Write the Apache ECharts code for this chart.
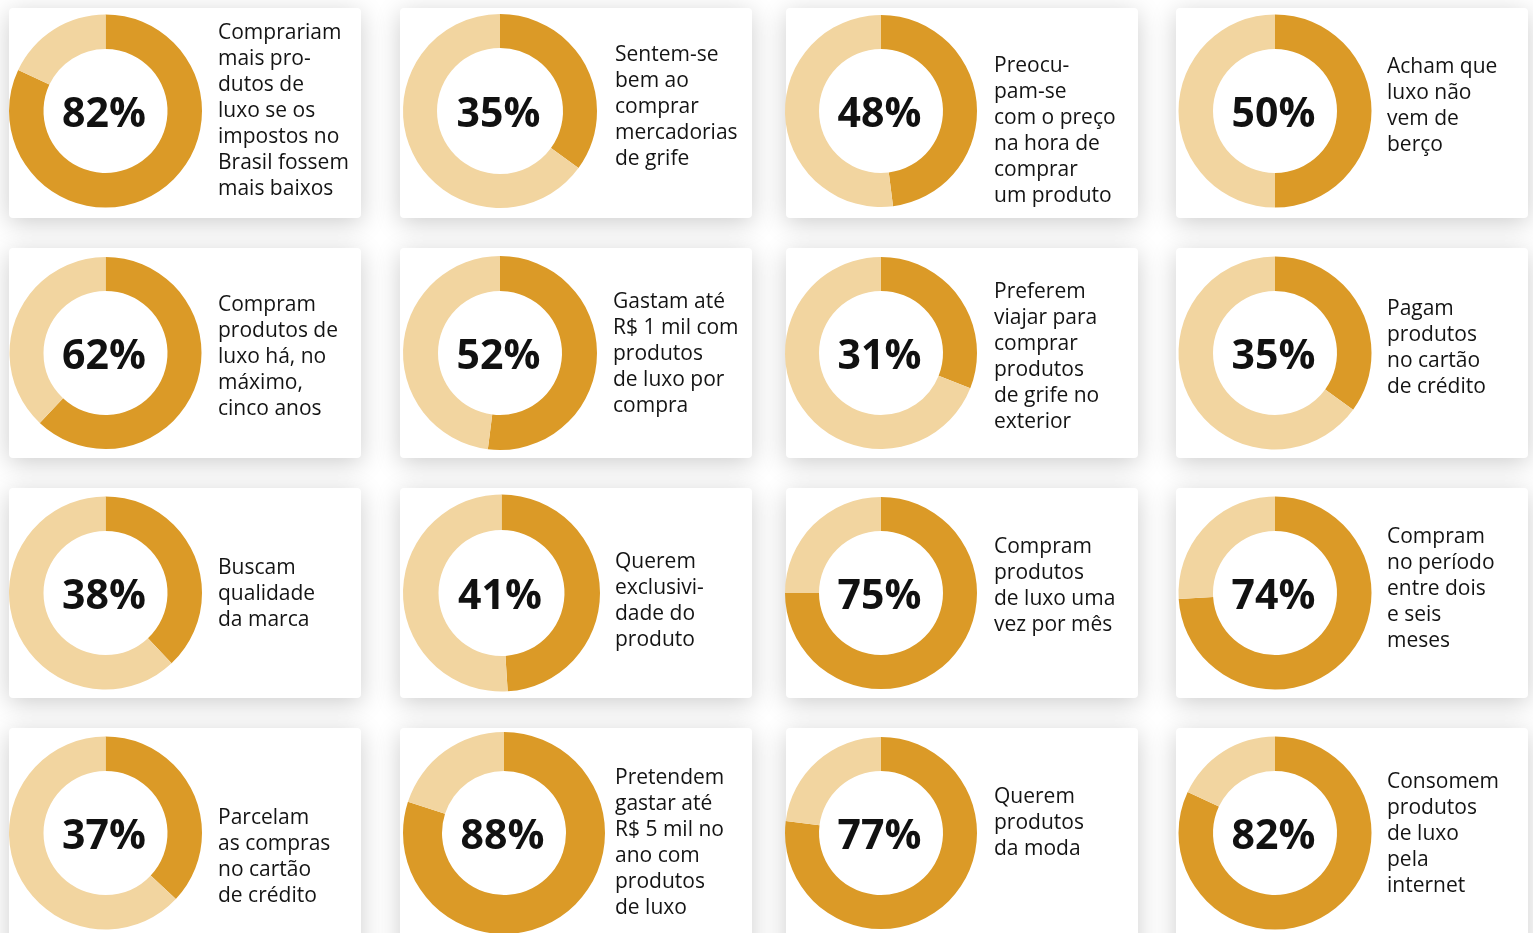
<!DOCTYPE html>
<html>
<head>
<meta charset="utf-8">
<script src="https://cdn.jsdelivr.net/npm/echarts@6/dist/echarts.min.js"></script>
<style>
html,body{margin:0;padding:0;background:#fff;overflow:hidden;}
#c{width:1533px;height:933px;}
</style>
</head>
<body>
<div id="c"></div>
<script>
// ---- data ----
// printed percentages
const pctLabels = [82, 35, 48, 50, 62, 52, 31, 35, 38, 41, 75, 74, 37, 88, 77, 82];
// share of each ring drawn in dark colour
const arcValues = [82, 35, 48, 50, 62, 52, 31, 35, 38, 49, 75, 74, 37, 80, 77, 82];
const descriptions = [
  "Comprariam\nmais pro-\ndutos de\nluxo se os\nimpostos no\nBrasil fossem\nmais baixos",
  "Sentem-se\nbem ao\ncomprar\nmercadorias\nde grife",
  "Preocu-\npam-se\ncom o preço\nna hora de\ncomprar\num produto",
  "Acham que\nluxo não\nvem de\nberço",
  "Compram\nprodutos de\nluxo há, no\nmáximo,\ncinco anos",
  "Gastam até\nR$ 1 mil com\nprodutos\nde luxo por\ncompra",
  "Preferem\nviajar para\ncomprar\nprodutos\nde grife no\nexterior",
  "Pagam\nprodutos\nno cartão\nde crédito",
  "Buscam\nqualidade\nda marca",
  "Querem\nexclusivi-\ndade do\nproduto",
  "Compram\nprodutos\nde luxo uma\nvez por mês",
  "Compram\nno período\nentre dois\ne seis\nmeses",
  "Parcelam\nas compras\nno cartão\nde crédito",
  "Pretendem\ngastar até\nR$ 5 mil no\nano com\nprodutos\nde luxo",
  "Querem\nprodutos\nda moda",
  "Consomem\nprodutos\nde luxo\npela\ninternet"
];

// ---- layout ----
const cardX = [9, 400, 786, 1176];
const cardY = [8, 248, 488, 728];
const cardW = 352, cardH = 210;
const donutCX = [105.5,500,881,1275, 105.5,500,881,1275, 105.5,501.5,881,1275, 105.5,504,881,1275];
const donutCY = [111, 353, 593, 833];
const outerR = [96.5,97,96,96.5, 96,97,96,96.5, 96.5,98.5,96,96.5, 96.5,101,96,96.5];
const innerR = [62,63,62,62, 62,62,62,62, 62,63,62,62, 62,62,62,62];
const textX = [218, 615, 994, 1387, 218, 613, 994, 1387, 218, 615, 994, 1387, 218, 615, 994, 1387];
const textY = [111, 107, 131, 106, 357, 354, 357, 348, 594, 601, 586, 589, 857, 843, 823, 834];

const DARK = '#DB9A27', LIGHT = '#F2D5A0';
const FONT = '"Open Sans", "Noto Sans", sans-serif';
const chart = echarts.init(document.getElementById('c'), null, {renderer: 'canvas'});

const graphics = [];
const series = [];
arcValues.forEach((v, i) => {
  const col = i % 4, row = Math.floor(i / 4);
  graphics.push({
    type: 'rect', z: 0,
    shape: {x: cardX[col], y: cardY[row], width: cardW, height: row === 3 ? 260 : cardH, r: 4},
    style: {fill: '#fff', shadowBlur: 26, shadowColor: 'rgba(0,0,0,0.2)', shadowOffsetY: 5}
  });
  graphics.push({
    type: 'text', z: 100,
    style: {
      text: descriptions[i], x: textX[i], y: textY[i],
      font: '21px ' + FONT, lineHeight: 26, fill: '#141414',
      textAlign: 'left', verticalAlign: 'middle'
    }
  });
  graphics.push({
    type: 'text', z: 100,
    style: {
      text: pctLabels[i] + '%', x: donutCX[i] - 1.5, y: donutCY[row] + 4,
      font: 'bold 41px ' + FONT, fill: '#111',
      textAlign: 'center', verticalAlign: 'middle'
    }
  });
  series.push({
    type: 'pie', z: 10,
    center: [donutCX[i], donutCY[row]],
    radius: [innerR[i], outerR[i]],
    startAngle: 90, clockwise: true,
    silent: true, animation: false,
    label: {show: false},
    labelLine: {show: false},
    emphasis: {disabled: true},
    data: [
      {value: v, itemStyle: {color: DARK}},
      {value: 100 - v, itemStyle: {color: LIGHT}}
    ]
  });
});

chart.setOption({
  backgroundColor: '#fff',
  animation: false,
  graphic: {elements: graphics},
  series: series
});
</script>
</body>
</html>
